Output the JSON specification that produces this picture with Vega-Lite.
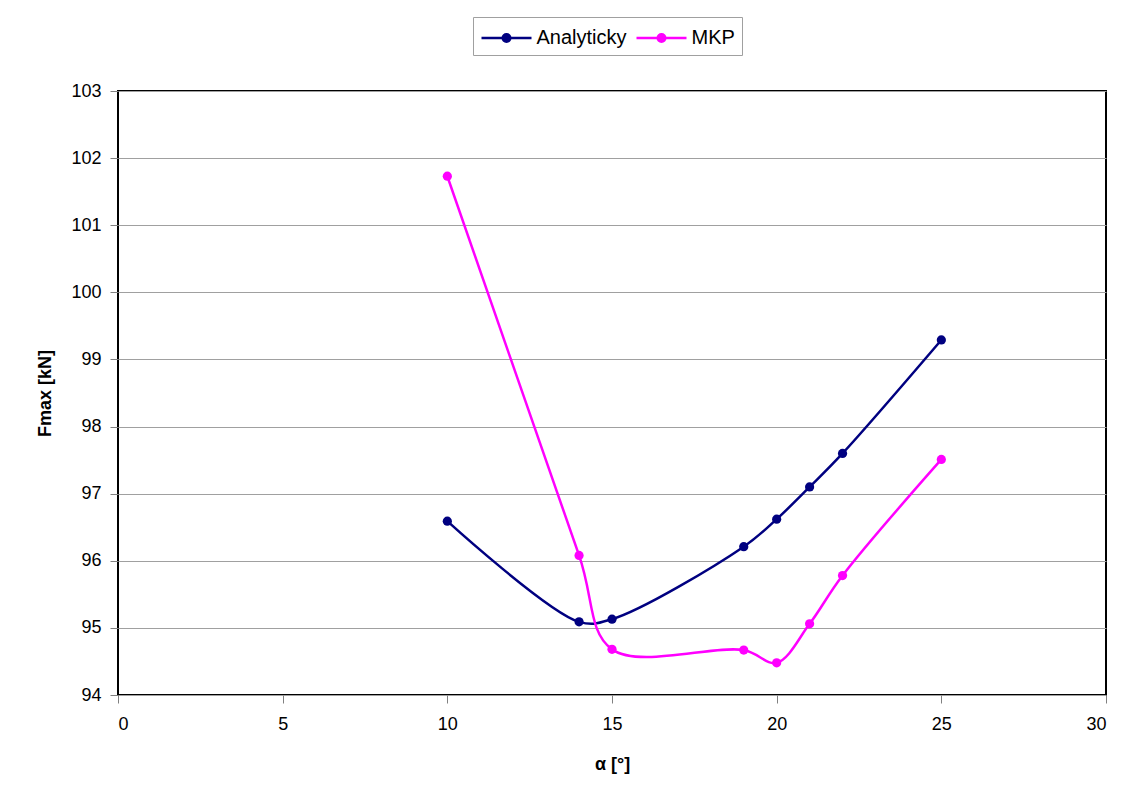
{
  "$schema": "https://vega.github.io/schema/vega-lite/v6.json",
  "width": 988,
  "height": 604,
  "autosize": {"type": "none"},
  "padding": {"left": 118, "top": 91, "right": 31, "bottom": 102},
  "background": "white",
  "config": {
    "font": "Liberation Sans",
    "view": {"stroke": "black", "strokeWidth": 2},
    "axis": {"labelFont": "Liberation Sans", "titleFont": "Liberation Sans", "labelFontSize": 18, "titleFontSize": 18, "labelColor": "black", "titleColor": "black", "domain": false, "tickColor": "#808080", "tickSize": 8, "gridColor": "#A0A0A0", "gridWidth": 1}
  },
  "data": {"values": [
    {"alpha": 10, "F": 96.59, "series": "Analyticky"},
    {"alpha": 14, "F": 95.09, "series": "Analyticky"},
    {"alpha": 15, "F": 95.13, "series": "Analyticky"},
    {"alpha": 19, "F": 96.21, "series": "Analyticky"},
    {"alpha": 20, "F": 96.62, "series": "Analyticky"},
    {"alpha": 21, "F": 97.10, "series": "Analyticky"},
    {"alpha": 22, "F": 97.60, "series": "Analyticky"},
    {"alpha": 25, "F": 99.29, "series": "Analyticky"},
    {"alpha": 10, "F": 101.73, "series": "MKP"},
    {"alpha": 14, "F": 96.08, "series": "MKP"},
    {"alpha": 15, "F": 94.68, "series": "MKP"},
    {"alpha": 19, "F": 94.67, "series": "MKP"},
    {"alpha": 20, "F": 94.48, "series": "MKP"},
    {"alpha": 21, "F": 95.06, "series": "MKP"},
    {"alpha": 22, "F": 95.78, "series": "MKP"},
    {"alpha": 25, "F": 97.51, "series": "MKP"}
  ]},
  "encoding": {
    "x": {"field": "alpha", "type": "quantitative", "scale": {"domain": [0, 30], "nice": false}, "axis": {"values": [0, 5, 10, 15, 20, 25, 30], "grid": false, "title": "α [°]", "titleFontWeight": "bold", "labelPadding": 12, "titlePadding": 22}},
    "y": {"field": "F", "type": "quantitative", "scale": {"domain": [94, 103], "nice": false, "zero": false}, "axis": {"values": [94, 95, 96, 97, 98, 99, 100, 101, 102, 103], "grid": true, "title": "Fmax [kN]", "titleFontWeight": "bold", "labelPadding": 9, "titlePadding": 16}},
    "color": {"field": "series", "type": "nominal", "scale": {"domain": ["Analyticky", "MKP"], "range": ["#000080", "#FF00FF"]}, "legend": {
        "title": null,
        "orient": "none",
        "direction": "horizontal",
        "legendX": 355,
        "legendY": -74,
        "strokeColor": "#A0A0A0",
        "padding": 7,
        "fillColor": "white",
        "labelFontSize": 20,
        "labelFont": "Liberation Sans",
        "labelColor": "black",
        "symbolType": "M -2 0 H 2 M -0.3 0 A 0.3 0.3 0 1 1 0.3 0 A 0.3 0.3 0 1 1 -0.3 0",
        "symbolSize": 625,
        "symbolOffset": 12.5,
        "symbolStrokeWidth": 2.5,
        "symbolOpacity": 1,
        "columnPadding": 4,
        "labelOffset": 16,
        "encode": {"symbols": {"update": {"stroke": {"scale": "color", "field": "value"}, "fill": {"scale": "color", "field": "value"}}}}
      }}
  },
  "layer": [
    {
      "mark": {"type": "line", "interpolate": "catmull-rom", "strokeWidth": 2.5}
    },
    {
      "mark": {"type": "point", "filled": true, "size": 85, "opacity": 1}
    }
  ]
}
